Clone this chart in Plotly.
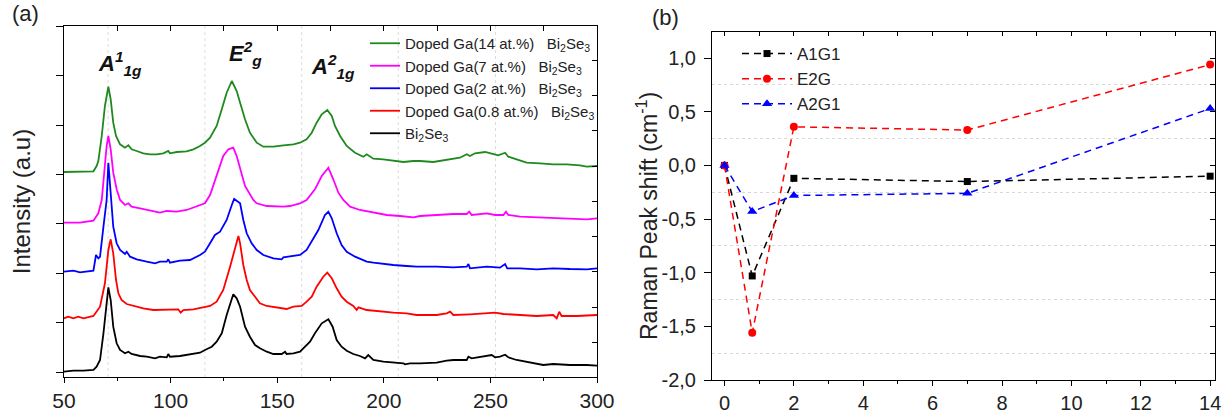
import plotly.graph_objects as go

# ---------------- Panel (a): Raman spectra (offset, arbitrary units) ----------------
shift_14 = [50, 54.4, 63.8, 65.3, 66.1, 67.7, 69.2, 70.8, 71.9, 73.1, 74.4, 76.3, 78.6, 80.2, 81.7, 84.1,
            87.2, 90.3, 93.5, 96.6, 98.9, 99.7, 102.9, 107.5, 110.7, 113.8, 116.1, 118.5, 121.6, 124.0,
            126.3, 128.7, 131.0, 132.6, 134.9, 137.2, 140.4, 143.5, 148.2, 152.9, 157.6, 160.7, 163.8,
            166.2, 168.5, 170.9, 173.5, 175.6, 177.1, 179.5, 182.6, 186.5, 190.4, 192.0, 195.1, 199.8,
            204.5, 209.2, 213.9, 217.0, 223.2, 229.5, 235.7, 238.9, 240.4, 242.8, 247.5, 250.6, 253.7,
            256.9, 258.4, 262.3, 267.0, 273.3, 279.5, 285.8, 292.0, 295.2, 298.3, 300]
int_14 = [205, 205.3, 205.7, 211, 216, 241, 271, 290.3, 277.7, 254.3, 241, 232.7, 229.3, 231.7, 227.7, 226,
          223.7, 222.7, 222.7, 223.7, 226, 223.7, 225, 225.7, 227.7, 231, 234.3, 239.3, 251, 267.7,
          284.3, 296, 286, 274.3, 257.7, 244.3, 234.3, 230.3, 230.3, 231.7, 232.7, 234.3, 237.7,
          244.3, 254.3, 262.7, 267, 261, 251, 241, 231, 224.3, 220.3, 222.7, 218.3, 217.7,
          216, 215, 216, 216, 215, 217, 219.3, 222.7, 221, 223.7, 225, 223.3, 221.7,
          224.3, 220.3, 217.7, 214.3, 213.7, 212.7, 212.7, 211.7, 210.3, 211, 211]

shift_7 = [50, 57.5, 63.8, 66.1, 67.7, 70.0, 70.8, 71.9, 73.1, 74.7, 76.3, 78.6, 80.2, 81.7, 85.7, 90.3,
           95.0, 98.2, 102.9, 107.5, 112.2, 116.1, 118.5, 121.6, 124.7, 127.1, 129.4, 131.0, 132.6, 134.9,
           138.8, 140.4, 145.1, 152.9, 156.0, 160.7, 163.8, 167.7, 170.9, 174.0, 176.3, 178.7, 181.0,
           184.2, 188.8, 195.1, 201.4, 207.6, 213.9, 217.0, 224.8, 232.6, 238.9, 240.1, 241.2, 248.3,
           252.2, 256.1, 257.3, 258.4, 263.9, 271.7, 279.5, 287.3, 295.2, 300]
int_7 = [154.3, 154.3, 156.3, 163.7, 177, 231, 241, 227.7, 204.3, 187.7, 177, 172, 173.7, 170.3, 168.7, 166.3,
         164.3, 166, 165.3, 167, 170.3, 173.7, 182, 201, 221, 227.7, 229.3, 221, 207.7, 191,
         177, 173.7, 171, 170.3, 171, 173.7, 177, 187.7, 201, 209.3, 197.7, 184.3, 177,
         170.3, 167, 164.3, 162, 161, 159.7, 161, 162, 163, 163, 165.3, 162, 163.7,
         162, 162, 165.3, 162, 160.3, 159.7, 158.7, 158.7, 157.7, 158.7]

shift_2 = [50, 54.4, 57.5, 63.8, 64.5, 65.0, 66.1, 66.9, 68.5, 70.0, 70.8, 71.6, 72.4, 73.1, 74.7, 76.3,
           78.6, 79.4, 81.0, 84.1, 88.8, 92.7, 95.0, 98.2, 98.9, 99.7, 104.4, 109.1, 113.8, 116.1,
           118.5, 120.8, 123.2, 126.3, 128.7, 129.8, 132.6, 134.1, 135.7, 138.0, 140.4, 143.5, 148.2,
           152.1, 152.9, 157.6, 160.7, 163.8, 166.2, 169.3, 172.4, 174.0, 175.6, 177.9, 180.2, 182.6,
           186.5, 190.4, 192.0, 195.1, 199.8, 204.5, 210.7, 215.4, 224.8, 232.6, 238.9, 239.7, 240.4,
           248.3, 254.5, 256.9, 257.9, 263.9, 271.7, 279.5, 287.3, 295.2, 300]
int_2 = [105.3, 106.3, 104.7, 106.3, 115.3, 122, 118.7, 120.3, 150.3, 177, 214.3, 194.3, 167, 150.3, 133.7, 127,
         123, 125.3, 120.3, 117.7, 115.3, 113.7, 115.3, 115.3, 117.7, 114.3, 116.3, 117, 122, 125.3,
         133.7, 142, 145.3, 157, 172, 178, 173.7, 157, 143.7, 133.7, 127, 122, 118.7,
         117.7, 119.7, 121, 122, 127, 135.3, 147, 162, 165.3, 158.7, 143.7, 132, 125.3,
         120.3, 117, 115.3, 114.3, 113, 112, 111, 110.3, 110.3, 109.7, 110.3, 113, 108.7,
         110.3, 109.3, 113, 108.7, 108.7, 107.7, 108.7, 108, 107.7, 108.7]

shift_08 = [50, 52.0, 54.4, 56.7, 59.1, 63.8, 66.9, 69.2, 70.8, 71.9, 73.1, 74.4, 75.5, 77.0, 79.4, 82.5,
            87.2, 91.9, 95.0, 99.7, 103.6, 104.7, 106.0, 110.7, 115.4, 118.5, 121.6, 124.7, 127.9, 131.0,
            131.8, 132.6, 134.1, 135.7, 137.2, 139.6, 141.9, 145.1, 149.8, 152.9, 154.4, 157.6, 161.5,
            163.8, 166.2, 168.5, 171.6, 173.5, 175.6, 177.9, 180.2, 182.6, 185.7, 187.3, 188.1, 192.0,
            198.2, 204.5, 210.7, 215.4, 224.8, 229.5, 231.1, 232.6, 240.4, 248.3, 252.2, 256.1, 263.9,
            271.7, 279.5, 281.1, 282.3, 283.4, 290.5, 298.3, 300]
int_08 = [58.7, 60.3, 58.7, 60.3, 58.7, 61, 70.3, 93.7, 127, 137.7, 123.7, 97, 83.7, 77, 73, 71,
          68.7, 67, 67, 67, 67.7, 64.3, 67, 67.7, 69.7, 71, 75.3, 87, 110.3, 133.7,
          141, 133.7, 112, 97, 87, 80.3, 73.7, 71, 69.7, 68.7, 68, 70.3, 71,
          75.3, 80.3, 90.3, 100.3, 104.3, 98.7, 88.7, 80.3, 75.3, 71, 67, 69.7, 67,
          65.3, 64.3, 63.7, 62, 62, 63.7, 65.3, 62, 62.7, 63.7, 64.3, 63, 62,
          61, 62, 58.7, 65.3, 61, 61, 62, 62]

shift_0 = [50, 54.4, 59.1, 63.8, 65.3, 66.9, 68.5, 70.0, 70.8, 71.9, 73.1, 74.7, 76.3, 78.6, 80.2, 81.7,
           85.7, 88.8, 92.7, 95.0, 98.2, 98.9, 99.7, 104.4, 109.1, 113.8, 116.1, 119.3, 121.6, 124.0,
           126.3, 128.7, 129.4, 131.0, 132.6, 134.9, 137.2, 139.6, 141.9, 145.1, 148.2, 152.1, 153.7,
           154.4, 157.6, 160.7, 163.0, 165.4, 167.7, 170.9, 174.0, 176.0, 177.9, 180.2, 182.6, 185.7,
           188.8, 191.2, 192.7, 195.1, 199.8, 204.5, 209.2, 209.9, 212.3, 217.0, 224.8, 229.5, 232.6,
           238.9, 239.7, 241.2, 246.7, 250.6, 252.2, 254.5, 256.9, 258.4, 262.3, 267.0, 271.7, 274.8,
           279.5, 287.3, 295.2, 298.3, 300]
int_0 = [5.3, 6.3, 6.3, 7, 10.3, 17, 43.7, 77, 89.7, 77, 50.3, 33.7, 27, 23.7, 25.3, 23,
         21, 20.3, 18.7, 20.3, 19.7, 23, 20.3, 21, 23, 24.3, 27, 30.3, 35.3, 43.7,
         62, 77, 82.7, 78.7, 70.3, 50.3, 40.3, 32, 28.7, 25.3, 23, 23, 25.3,
         23, 23.7, 25.3, 30.3, 35.3, 43.7, 53.7, 57.7, 50.3, 37, 30.3, 26.3, 23,
         21, 18.7, 22, 17, 15.3, 14.3, 13.7, 12.7, 13.7, 13.7, 14.3, 16.3, 17,
         17, 20.3, 18.7, 21, 22, 19.7, 20.3, 22.3, 19.7, 17, 15.3, 13.7, 12,
         13, 12, 12, 11.3, 11.3]

spectrum_names = ["Doped Ga(14 at.%)\u00a0\u00a0\u00a0Bi<sub>2</sub>Se<sub>3</sub>",
                  "Doped Ga(7 at.%)\u00a0\u00a0\u00a0Bi<sub>2</sub>Se<sub>3</sub>",
                  "Doped Ga(2 at.%)\u00a0\u00a0\u00a0Bi<sub>2</sub>Se<sub>3</sub>",
                  "Doped Ga(0.8 at.%)\u00a0\u00a0\u00a0Bi<sub>2</sub>Se<sub>3</sub>",
                  "Bi<sub>2</sub>Se<sub>3</sub>"]
spectrum_colors = ["#1e8a1e", "#ff00ff", "#0000ff", "#ff0000", "#000000"]
spectra_x = [shift_14, shift_7, shift_2, shift_08, shift_0]
spectra_y = [int_14, int_7, int_2, int_08, int_0]

x_ticks_a = [50, 100, 150, 200, 250, 300]
grid_x_a = [70.7, 116.1, 161.5, 206.8, 252.4]
peak_labels = ["<b><i>A<sup>1</sup><sub>1g</sub></i></b>",
               "<b><i>E<sup>2</sup><sub>g</sub></i></b>",
               "<b><i>A<sup>2</sup><sub>1g</sub></i></b>"]

# ---------------- Panel (b): Raman peak shift vs Ga content ----------------
ga_content = [0, 0.8, 2, 7, 14]
shift_a1g1 = [0, -1.03, -0.12, -0.15, -0.10]
shift_e2g = [0, -1.56, 0.36, 0.33, 0.94]
shift_a2g1 = [0, -0.43, -0.28, -0.26, 0.53]
mode_names = ["A1G1", "E2G", "A2G1"]
y_ticks_b = [-2.0, -1.5, -1.0, -0.5, 0.0, 0.5, 1.0]
y_ticklabels_b = ["-2,0", "-1,5", "-1,0", "-0,5", "0,0", "0,5", "1,0"]
y_minor_grid_b = [-1.75, -1.25, -0.75, -0.25, 0.25, 0.75]

W, H = 1232, 418
FONT = "Liberation Sans, Arial, sans-serif"
TXT = "#222222"

fig = go.Figure()

for name, xs, ys, col in zip(spectrum_names, spectra_x, spectra_y, spectrum_colors):
    fig.add_trace(go.Scatter(x=xs, y=ys, mode="lines", name=name,
                             line=dict(color=col, width=1.8),
                             xaxis="x", yaxis="y", legend="legend"))

# dummy traces so the overlay axes are drawn
fig.add_trace(go.Scatter(x=[None], y=[None], xaxis="x3", yaxis="y", showlegend=False, hoverinfo="skip"))
fig.add_trace(go.Scatter(x=[None], y=[None], xaxis="x", yaxis="y2", showlegend=False, hoverinfo="skip"))

styles_b = [("#000000", "square", 7), ("#ff0000", "circle", 8), ("#0000ff", "triangle-up", 9)]
for name, ys, (col, sym, sz) in zip(mode_names, [shift_a1g1, shift_e2g, shift_a2g1], styles_b):
    fig.add_trace(go.Scatter(x=ga_content, y=ys, mode="lines+markers", name=name,
                             line=dict(color=col, width=1.5, dash="7px,5px"),
                             marker=dict(symbol=sym, size=sz, color=col),
                             xaxis="x2", yaxis="y3", legend="legend2", cliponaxis=False))

fig.add_trace(go.Scatter(x=[None], y=[None], xaxis="x4", yaxis="y3", showlegend=False, hoverinfo="skip"))
fig.add_trace(go.Scatter(x=[None], y=[None], xaxis="x2", yaxis="y4", showlegend=False, hoverinfo="skip"))

ax_common = dict(showline=True, linecolor="black", linewidth=1, showgrid=False, zeroline=False,
                 tickcolor="black", tickwidth=1, automargin=False)

dom_xa = [64 / W, 597 / W]
dom_ya = [(H - 377) / H, (H - 26) / H]
dom_xb = [712 / W, 1215 / W]
dom_yb = [(H - 380) / H, (H - 32) / H]
x_range_b = [-0.36, 14.14]

fig.update_layout(
    width=W, height=H, margin=dict(l=0, r=0, t=0, b=0, autoexpand=False),
    paper_bgcolor="white", plot_bgcolor="white",
    font=dict(family=FONT, color=TXT),
    xaxis=dict(domain=dom_xa, anchor="y", range=[50, 300], tickmode="array", tickvals=x_ticks_a,
               ticks="outside", ticklen=5,
               minor=dict(tickmode="linear", tick0=75, dtick=50, ticks="outside", ticklen=3, tickcolor="black"),
               tickfont=dict(size=21, color=TXT), **ax_common),
    xaxis3=dict(overlaying="x", side="top", anchor="y", range=[50, 300], tickmode="linear", tick0=50, dtick=25,
                ticks="inside", ticklen=5, showticklabels=False, **ax_common),
    yaxis=dict(domain=dom_ya, anchor="x", range=[0, 351], tickmode="linear", tick0=5, dtick=49.4,
               ticks="outside", ticklen=7, showticklabels=False,
               title=dict(text="Intensity (a.u)", font=dict(size=24, color=TXT), standoff=18), **ax_common),
    yaxis2=dict(overlaying="y", side="right", anchor="x", range=[0, 351], tickmode="linear", tick0=34.7,
                dtick=35.25, ticks="inside", ticklen=5, showticklabels=False, **ax_common),
    xaxis2=dict(domain=dom_xb, anchor="y3", range=x_range_b, tickmode="linear", tick0=0, dtick=2,
                ticks="outside", ticklen=5,
                minor=dict(tickmode="linear", tick0=1, dtick=2, ticks="outside", ticklen=3, tickcolor="black"),
                tickfont=dict(size=20, color=TXT), **ax_common),
    xaxis4=dict(overlaying="x2", side="top", anchor="y3", range=x_range_b, tickmode="linear", tick0=0,
                dtick=1, ticks="inside", ticklen=4, showticklabels=False, **ax_common),
    yaxis3=dict(domain=dom_yb, anchor="x2", range=[-2.0, 1.244], tickmode="array", tickvals=y_ticks_b,
                ticktext=y_ticklabels_b, ticks="outside", ticklen=7, ticklabelstandoff=4,
                minor=dict(tickmode="array", tickvals=y_minor_grid_b, showgrid=True, gridcolor="#d8d8d8",
                           griddash="dot", gridwidth=1, ticks=""),
                tickfont=dict(size=20, color=TXT), **ax_common),
    yaxis4=dict(overlaying="y3", side="right", anchor="x2", range=[-2.0, 1.244], tickmode="linear", tick0=-2,
                dtick=0.25, ticks="inside", ticklen=5, showticklabels=False, **ax_common),
    legend=dict(x=365 / W, y=(H - 27) / H, xanchor="left", yanchor="top", bgcolor="rgba(0,0,0,0)",
                font=dict(size=15, color=TXT), tracegroupgap=0, itemwidth=30),
    legend2=dict(x=737 / W, y=(H - 36) / H, xanchor="left", yanchor="top", bgcolor="rgba(0,0,0,0)",
                 font=dict(size=17, color=TXT), tracegroupgap=0, itemwidth=50),
)

for gx in grid_x_a:
    fig.add_shape(type="line", xref="x", yref="paper", x0=gx, x1=gx, y0=dom_ya[0], y1=dom_ya[1],
                  line=dict(color="#dcdcdc", width=1, dash="dot"), layer="below")

label_pos = [(65.0, 314), (126.5, 324), (165.0, 311)]
for txt, (lx, ly) in zip(peak_labels, label_pos):
    fig.add_annotation(x=lx, y=ly, xref="x", yref="y", text=txt, showarrow=False,
                       xanchor="left", yanchor="middle", font=dict(size=22, color="#111111"))

# y-axis title of panel (b), placed as rotated text
fig.add_annotation(x=647 / W, y=(H - 216) / H, xref="paper", yref="paper",
                   text="Raman Peak shift (cm<sup>-1</sup>)", textangle=-90, showarrow=False,
                   xanchor="center", yanchor="middle", font=dict(size=23, color=TXT))

fig.add_annotation(x=10 / W, y=(H - 14) / H, xref="paper", yref="paper", text="(a)", showarrow=False,
                   xanchor="left", yanchor="middle", font=dict(size=22, color=TXT))
fig.add_annotation(x=650 / W, y=(H - 17) / H, xref="paper", yref="paper", text="(b)", showarrow=False,
                   xanchor="left", yanchor="middle", font=dict(size=22, color=TXT))

fig.write_html("out.html")
